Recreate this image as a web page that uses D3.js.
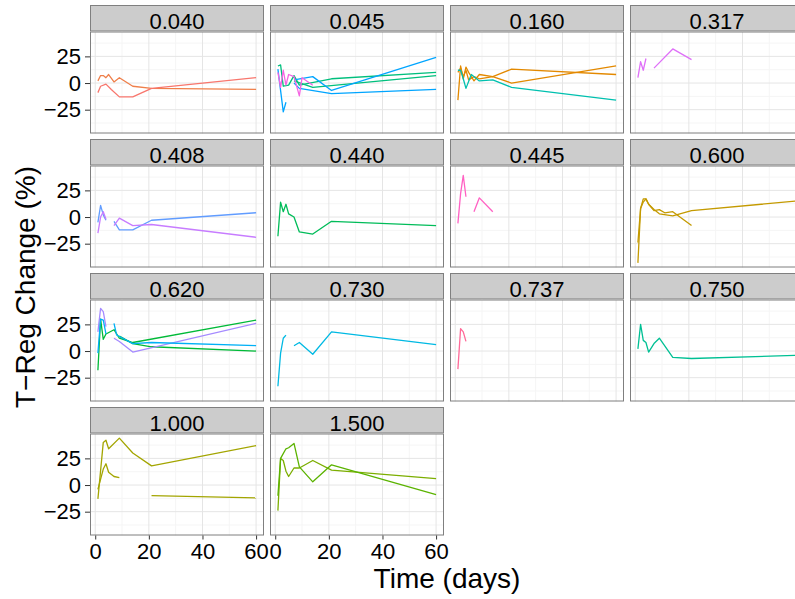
<!DOCTYPE html>
<html>
<head>
<meta charset="utf-8">
<script src="https://cdn.jsdelivr.net/npm/d3@7"></script>
<style>
  body { margin: 0; background: #fff; }
  svg { display: block; font-family: "Liberation Sans", Arial, Helvetica, sans-serif; }
</style>
</head>
<body>
<svg id="chart" width="795" height="599"></svg>
<script>
// facet labels (dose) and subjects
var doses = ['0.040', '0.045', '0.160', '0.317', '0.408', '0.440', '0.445',
  '0.600', '0.620', '0.730', '0.737', '0.750', '1.000', '1.500'];
var subjects = ['S01', 'S02', 'S03', 'S04', 'S05', 'S06', 'S07', 'S08', 'S09', 'S10', 'S11',
  'S12', 'S13', 'S14', 'S15', 'S16', 'S17', 'S18', 'S19', 'S20', 'S21', 'S22'];
var xTicks = [0, 20, 40, 60];
var yTicks = [-25, 0, 25];

// one entry per drawn run (a subject can have several runs in a panel)
var runDose = ['0.040', '0.040', '0.045', '0.045', '0.045', '0.045', '0.045', '0.045',
  '0.160', '0.160', '0.160', '0.317', '0.317', '0.408', '0.408', '0.408', '0.408',
  '0.440', '0.445', '0.445', '0.600', '0.600', '0.620', '0.620', '0.620', '0.620',
  '0.620', '0.620', '0.730', '0.730', '0.737', '0.750', '1.000', '1.000', '1.000',
  '1.500', '1.500'];
var runSubject = ['S02', 'S01', 'S10', 'S10', 'S15', 'S15', 'S15', 'S20',
  'S03', 'S03', 'S12', 'S19', 'S19', 'S16', 'S16', 'S18', 'S18',
  'S09', 'S21', 'S21', 'S04', 'S04', 'S08', 'S08', 'S17', 'S17',
  'S14', 'S14', 'S13', 'S13', 'S22', 'S11', 'S05', 'S05', 'S05',
  'S06', 'S07'];
var runDays = [
  [1, 2, 3, 4, 5, 7, 9, 14, 21, 60],
  [1, 2, 4, 6, 9, 14, 21, 60],
  [1, 2, 3, 5, 7, 9, 21, 60],
  [7, 14, 60],
  [1, 3, 4],
  [7, 14, 21, 60],
  [7, 9, 21, 60],
  [1, 2, 3, 4, 5, 7, 9, 10, 14],
  [1, 2, 3, 4, 5, 7, 9, 14, 21, 60],
  [1, 2, 3, 4, 5, 7, 9, 14, 21, 60],
  [1, 2, 3, 4, 6, 9, 14, 21, 60],
  [1, 2, 3, 4],
  [7, 14, 21],
  [1, 2, 3, 4],
  [7, 9, 14, 21, 60],
  [1, 2, 3, 4],
  [7, 9, 14, 21, 60],
  [1, 2, 3, 4, 5, 7, 9, 14, 21, 60],
  [1, 2, 3, 4],
  [7, 9, 14],
  [1, 2, 3, 4, 5, 7, 9, 11, 14, 21],
  [1, 2, 3, 4, 5, 7, 9, 14, 21, 60],
  [1, 2, 3, 4, 7, 9, 14, 60],
  [9, 14, 21, 60],
  [1, 2, 3, 4],
  [7, 9, 14, 60],
  [1, 2, 3, 4],
  [7, 8, 14, 21, 60],
  [1, 2, 3, 4],
  [7, 9, 14, 21, 60],
  [1, 2, 3, 4],
  [1, 2, 3, 4, 5, 7, 9, 14, 21, 60],
  [1, 3, 4, 5, 9, 14, 21, 60],
  [1, 3, 4, 5, 7, 9],
  [21, 60],
  [1, 2, 3, 4, 5, 7, 9, 14, 21, 60],
  [1, 2, 4, 5, 7, 9, 14, 21, 60]
];
var runPct = [
  [2, 7, 7, 5, 8, 1, 5, -3, -5, -6],
  [-9, -3, -1, -6, -13, -13, -5, 5],
  [16, 17, -3, -2, 7, -2, 4, 10],
  [2, -4, 7],
  [13, -27, -18],
  [3, 6, -7, 24],
  [0, -5, -10, -6],
  [10, -4, 12, -2, 8, 6, -12, 5, -2],
  [-16, 16, 4, 15, 10, 2, 8, 6, 13, 8],
  [10, 14, 6, 12, 3, 6, 4, 6, 0, 16],
  [12, 12, 4, -5, 8, 2, 3, -4, -16],
  [5, 20, 12, 23],
  [14, 32, 22],
  [-5, 11, 2, -3],
  [-4, -12, -12, -3, 4],
  [-15, 0, 5, -2],
  [-8, -1, -8, -7, -19],
  [-18, 14, 5, 12, 3, 0, -14, -16, -4, -8],
  [-6, 22, 39, 19],
  [5, 18, 5],
  [-43, 8, 17, 17, 12, 6, 7, 4, 5, -8],
  [-24, 8, 14, 17, 12, 7, 3, 1, 6, 15],
  [-18, 30, 11, 16, 20, 12, 8, 29],
  [14, 7, 4, 0],
  [18, 40, 37, 23],
  [12, 9, -1, 26],
  [-2, 30, 29, 16],
  [26, 15, 7, 8, 5],
  [-33, -2, 12, 15],
  [5, 8, -3, 18, 6],
  [-17, 21, 18, 9],
  [2, 25, 10, 8, -1, 7, 12, -6, -7, -4],
  [-13, 40, 42, 34, 44, 30, 18, 37],
  [-4, 15, 20, 12, 8, 7],
  [-10, -12],
  [-24, 25, 23, 13, 8, 16, 16, 23, 14, 6],
  [-10, 25, 34, 35, 39, 17, 3, 19, -9]
];

// ggplot-like hue colours, one per subject
var palette = ['#F8766D', '#EF7F4A', '#E38900', '#C49A00', '#A3A500', '#7CAE00', '#5BB300',
  '#00BA38', '#00BC59', '#00BF7D', '#00C094', '#00C0AF', '#00B9E3', '#00B0F6', '#00A5FF',
  '#619CFF', '#A58AFF', '#C77CFF', '#DF70F8', '#F564E3', '#FF61C3', '#FF6A98'];

var svg = d3.select('#chart');
var ncol = 4, left0 = 90, colStep = 180, panelW = 174, top0 = 5, rowStep = 134,
  stripH = 26.5, panelH = 102;

var allDays = d3.merge(runDays), allPct = d3.merge(runPct);
function expand(ext) {
  var p = (ext[1] - ext[0]) * 0.05;
  return [ext[0] - p, ext[1] + p];
}
var x = d3.scaleLinear().domain(expand(d3.extent(allDays))).range([0, panelW]);
var y = d3.scaleLinear().domain(expand(d3.extent(allPct))).range([panelH, 0]);
var color = d3.scaleOrdinal().domain(subjects).range(palette);

var line = d3.line()
  .x(function (d) { return x(d[0]); })
  .y(function (d) { return y(d[1]); });

var nrow = Math.ceil(doses.length / ncol);

doses.forEach(function (dose, i) {
  var col = i % ncol, row = Math.floor(i / ncol);
  var px = left0 + col * colStep, sy = top0 + row * rowStep, py = sy + stripH;

  // strip
  svg.append('rect')
    .attr('x', px + 0.5).attr('y', sy + 0.5)
    .attr('width', panelW - 1).attr('height', stripH - 1)
    .attr('fill', '#cccccc').attr('stroke', '#7f7f7f').attr('stroke-width', 1);
  svg.append('text')
    .attr('x', px + panelW / 2).attr('y', sy + 23.5)
    .attr('text-anchor', 'middle').attr('font-size', 22).attr('fill', '#000')
    .text(dose);

  var g = svg.append('g').attr('transform', 'translate(' + px + ',' + py + ')');
  g.append('rect').attr('width', panelW).attr('height', panelH).attr('fill', '#fff');

  // minor grid
  var xMinor = xTicks.slice(0, -1).map(function (t, k) { return (t + xTicks[k + 1]) / 2; });
  var yMinor = [yTicks[0] - 12.5].concat(yTicks.map(function (t) { return t + 12.5; }));
  g.selectAll('.xm').data(xMinor).enter().append('line')
    .attr('x1', function (d) { return x(d); }).attr('x2', function (d) { return x(d); })
    .attr('y1', 0).attr('y2', panelH).attr('stroke', '#f5f5f5').attr('stroke-width', 1);
  g.selectAll('.ym').data(yMinor).enter().append('line')
    .attr('y1', function (d) { return y(d); }).attr('y2', function (d) { return y(d); })
    .attr('x1', 0).attr('x2', panelW).attr('stroke', '#f5f5f5').attr('stroke-width', 1);
  // major grid
  g.selectAll('.xM').data(xTicks).enter().append('line')
    .attr('x1', function (d) { return x(d); }).attr('x2', function (d) { return x(d); })
    .attr('y1', 0).attr('y2', panelH).attr('stroke', '#e5e5e5').attr('stroke-width', 1);
  g.selectAll('.yM').data(yTicks).enter().append('line')
    .attr('y1', function (d) { return y(d); }).attr('y2', function (d) { return y(d); })
    .attr('x1', 0).attr('x2', panelW).attr('stroke', '#e5e5e5').attr('stroke-width', 1);

  // lines for this dose
  runDose.forEach(function (rd, k) {
    if (rd !== dose) return;
    var pts = d3.zip(runDays[k], runPct[k]);
    g.append('path')
      .attr('d', line(pts))
      .attr('fill', 'none')
      .attr('stroke', color(runSubject[k]))
      .attr('stroke-width', 1.3)
      .attr('stroke-linejoin', 'round');
  });

  g.append('rect').attr('x', 0.5).attr('y', 0.5)
    .attr('width', panelW - 1).attr('height', panelH - 1)
    .attr('fill', 'none').attr('stroke', '#7f7f7f').attr('stroke-width', 1);

  // y axis on first column
  if (col === 0) {
    var ya = d3.axisLeft(y).tickValues(yTicks).tickSize(5).tickPadding(4)
      .tickFormat(function (d) { return d < 0 ? '\u2212' + Math.abs(d) : d; });
    var ay = g.append('g').call(ya);
    ay.select('.domain').remove();
    ay.selectAll('line').attr('stroke', '#333');
    ay.selectAll('text').attr('font-size', 22).attr('fill', '#000')
      .attr('font-family', '"Liberation Sans", Arial, sans-serif');
  }
  // x axis on bottom row only
  if (row === nrow - 1) {
    var xa = d3.axisBottom(x).tickValues(xTicks).tickSize(4).tickPadding(4);
    var ax = g.append('g').attr('transform', 'translate(0,' + panelH + ')').call(xa);
    ax.select('.domain').remove();
    ax.selectAll('line').attr('stroke', '#333');
    ax.selectAll('text').attr('font-size', 22).attr('fill', '#000')
      .attr('font-family', '"Liberation Sans", Arial, sans-serif');
  }
});

// axis titles
svg.append('text')
  .attr('x', left0 + (ncol * colStep - 6) / 2).attr('y', 588)
  .attr('text-anchor', 'middle').attr('font-size', 28).attr('fill', '#000')
  .text('Time (days)');
svg.append('text')
  .attr('transform', 'translate(35,287) rotate(-90)')
  .attr('text-anchor', 'middle').attr('font-size', 28).attr('fill', '#000')
  .text('T\u2212Reg Change (%)');
</script>
</body>
</html>
